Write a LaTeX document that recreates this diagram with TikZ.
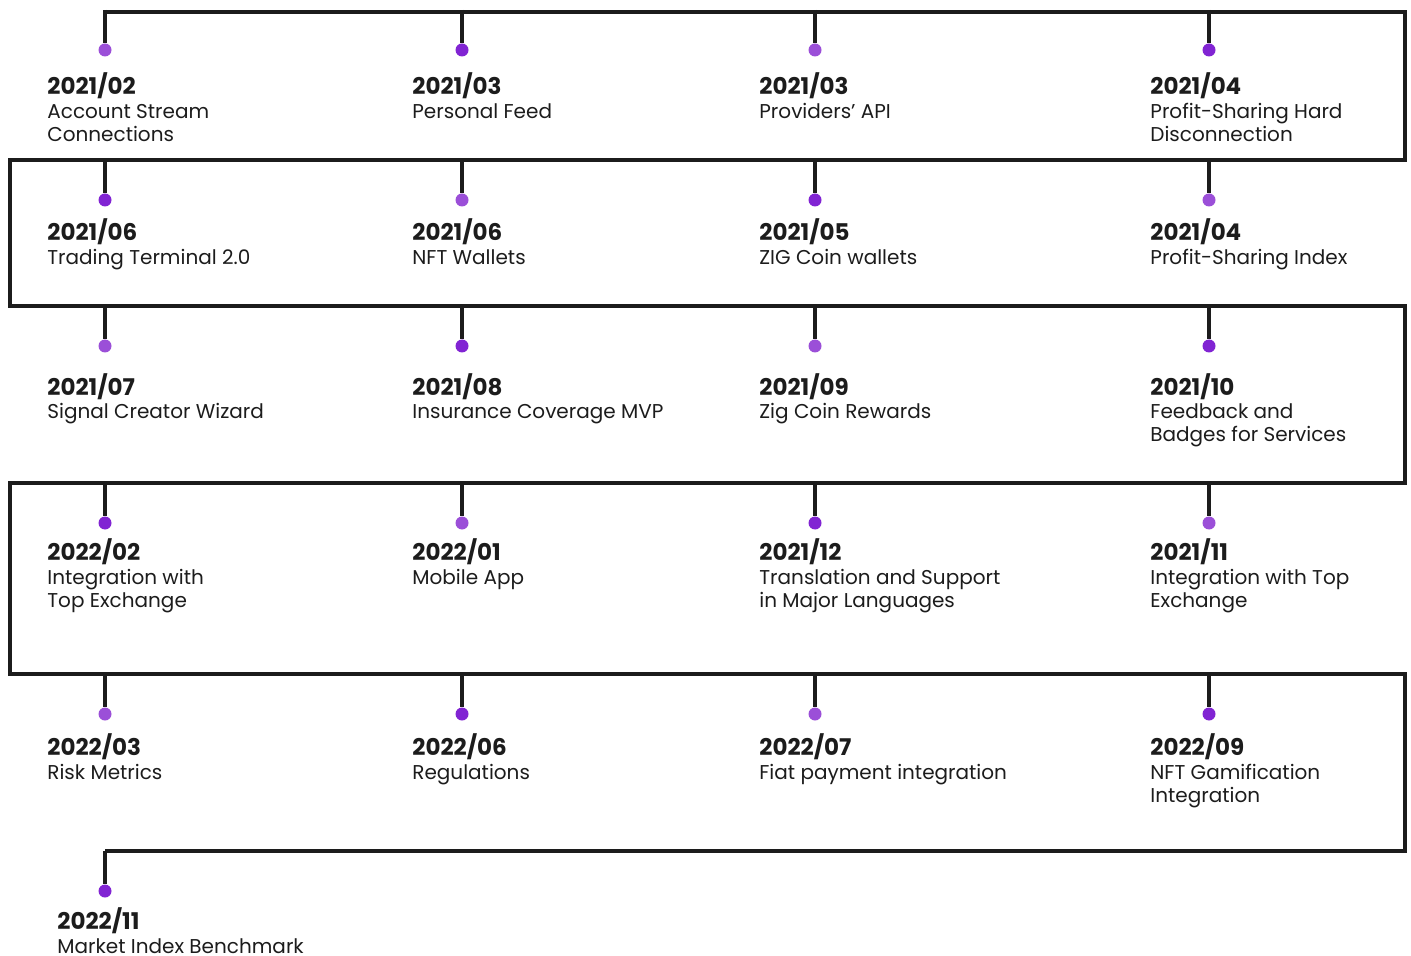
\documentclass[tikz,border=0pt]{standalone}
\usepackage{fontspec}
\setmainfont{Poppins}
\usepackage{xcolor}
\definecolor{trackgray}{HTML}{1C1C1C}
\definecolor{purplelt}{HTML}{9B4FD8}
\definecolor{purpledk}{HTML}{8124D3}

% name, x, dot y, dot style, text x, date baseline, date, label
\newcommand{\mstone}[8]{%
  \node[#4] (#1) at (#2,#3) {};
  \draw[track] (#2,#3-40) -- (#1);
  \node[datetxt] (#1-date) at (#5,#6) {#7};
  \node[labeltxt] (#1-lbl) at (#5,#6+24) {\begin{tabular}[t]{@{}l@{}}#8\end{tabular}};
}

\begin{document}
\begin{tikzpicture}[x=0.5pt,y=-0.5pt]
		\tikzstyle{track}=[draw=trackgray, line width=2pt]
		\tikzstyle{dotlt}=[circle, fill=purplelt, inner sep=0pt, minimum size=6.5pt]
		\tikzstyle{dotdk}=[circle, fill=purpledk, inner sep=0pt, minimum size=6.5pt]
		\tikzstyle{datetxt}=[anchor=base west, inner sep=0pt, text=trackgray, font=\fontsize{11.5}{13}\selectfont\bfseries]
		\tikzstyle{labeltxt}=[anchor=base west, inner sep=0pt, text=trackgray, font=\fontsize{10}{11.5}\selectfont]
		\useasboundingbox (0,0) rectangle (1411,956);
		% snake track
		\coordinate (start) at (105,12);
		\coordinate (r1) at (1405,12);
		\coordinate (r2) at (1405,160);
		\coordinate (l2) at (10,160);
		\coordinate (l3) at (10,306);
		\coordinate (r3) at (1405,306);
		\coordinate (r4) at (1405,483);
		\coordinate (l4) at (10,483);
		\coordinate (l5) at (10,674);
		\coordinate (r5) at (1405,674);
		\coordinate (r6) at (1405,851);
		\coordinate (end) at (105,851);
		\draw[track] (start) -- (r1) -- (r2) -- (l2) -- (l3) -- (r3) -- (r4) -- (l4) -- (l5) -- (r5) -- (r6) -- (end);
		% row 1
		\mstone{a1}{105}{50}{dotlt}{47}{95}{2021/02}{Account Stream\\Connections}
		\mstone{a2}{462}{50}{dotdk}{412}{95}{2021/03}{Personal Feed}
		\mstone{a3}{815}{50}{dotlt}{759}{95}{2021/03}{Providers' API}
		\mstone{a4}{1209}{50}{dotdk}{1150}{95}{2021/04}{Profit-Sharing Hard\\Disconnection}
		% row 2
		\mstone{b1}{105}{200}{dotdk}{47}{241}{2021/06}{Trading Terminal 2.0}
		\mstone{b2}{462}{200}{dotlt}{412}{241}{2021/06}{NFT Wallets}
		\mstone{b3}{815}{200}{dotdk}{759}{241}{2021/05}{ZIG Coin wallets}
		\mstone{b4}{1209}{200}{dotlt}{1150}{241}{2021/04}{Profit-Sharing Index}
		% row 3
		\mstone{c1}{105}{346}{dotlt}{47}{395}{2021/07}{Signal Creator Wizard}
		\mstone{c2}{462}{346}{dotdk}{412}{395}{2021/08}{Insurance Coverage MVP}
		\mstone{c3}{815}{346}{dotlt}{759}{395}{2021/09}{Zig Coin Rewards}
		\mstone{c4}{1209}{346}{dotdk}{1150}{395}{2021/10}{Feedback and\\Badges for Services}
		% row 4
		\mstone{d1}{105}{523}{dotdk}{47}{560}{2022/02}{Integration with\\Top Exchange}
		\mstone{d2}{462}{523}{dotlt}{412}{560}{2022/01}{Mobile App}
		\mstone{d3}{815}{523}{dotdk}{759}{560}{2021/12}{Translation and Support\\in Major Languages}
		\mstone{d4}{1209}{523}{dotlt}{1150}{560}{2021/11}{Integration with Top\\Exchange}
		% row 5
		\mstone{e1}{105}{714}{dotlt}{47}{755}{2022/03}{Risk Metrics}
		\mstone{e2}{462}{714}{dotdk}{412}{755}{2022/06}{Regulations}
		\mstone{e3}{815}{714}{dotlt}{759}{755}{2022/07}{Fiat payment integration}
		\mstone{e4}{1209}{714}{dotdk}{1150}{755}{2022/09}{NFT Gamification\\Integration}
		% last
		\mstone{f1}{105}{891}{dotdk}{57}{929}{2022/11}{Market Index Benchmark}
\end{tikzpicture}
\end{document}
